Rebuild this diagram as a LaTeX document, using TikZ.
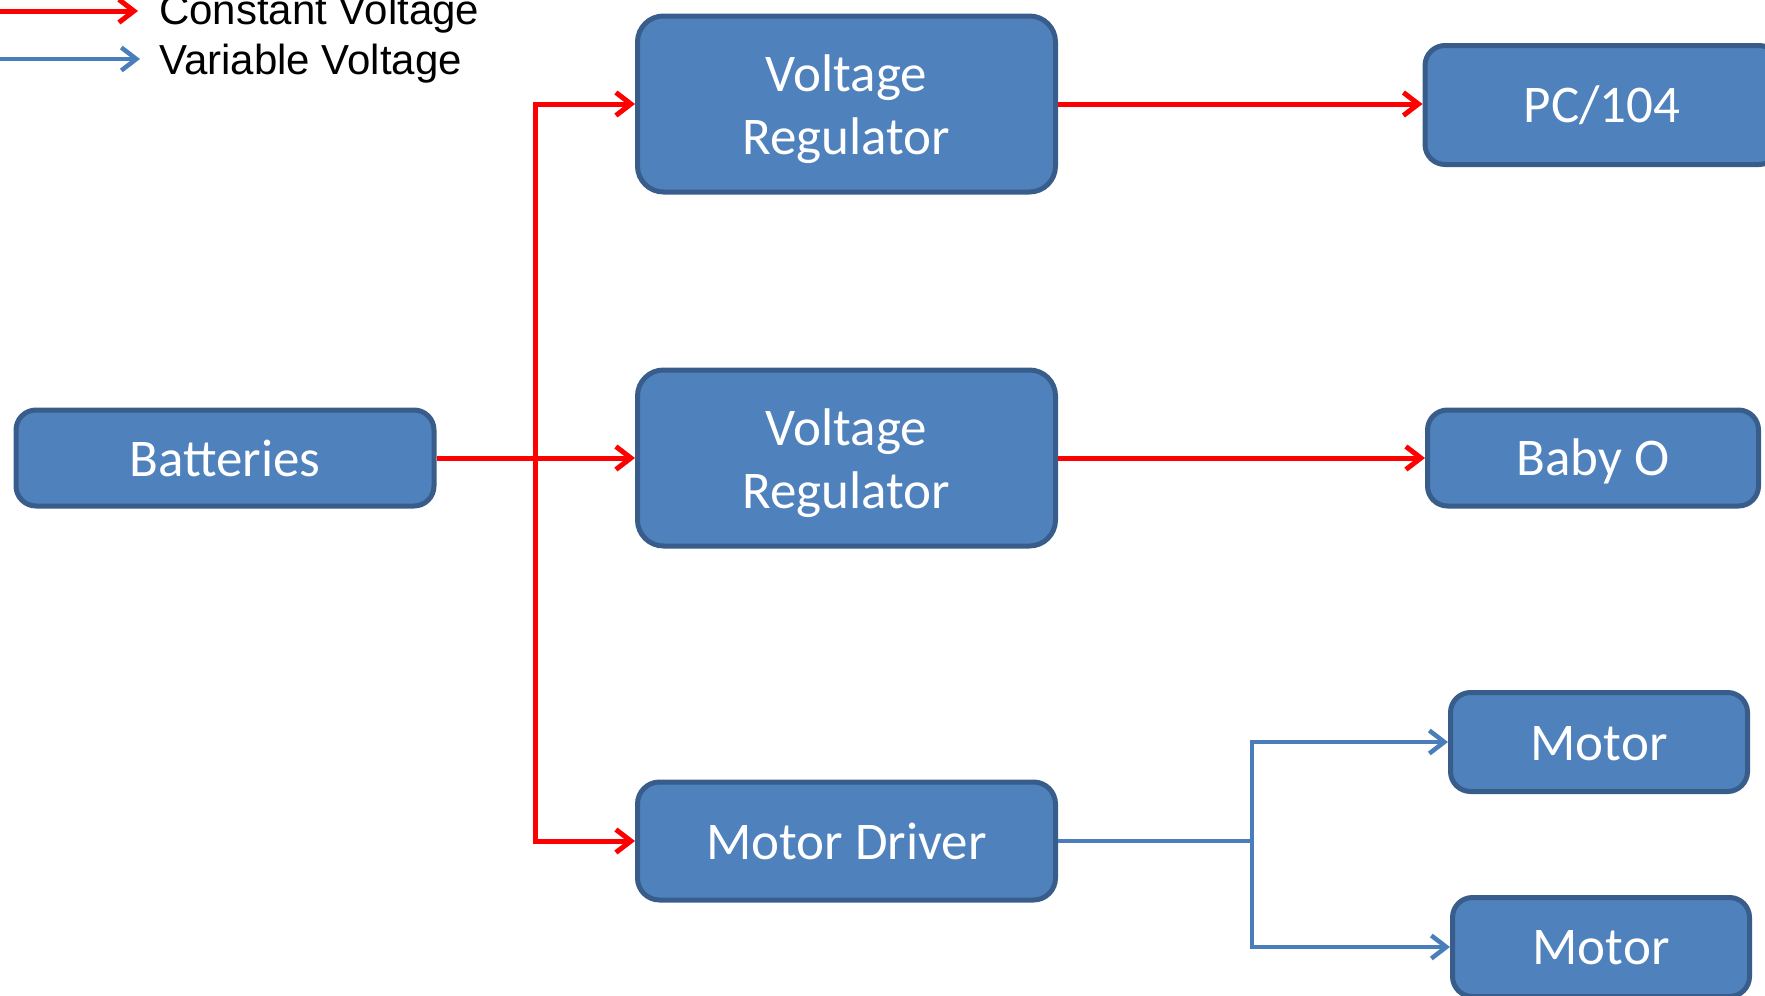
\documentclass[tikz,border=0pt]{standalone}
\usepackage{fontspec}
\setmainfont{Carlito}
\newfontfamily\legfont{Liberation Sans}
\usetikzlibrary{arrows.meta}
\definecolor{boxfill}{HTML}{4F81BD}
\definecolor{boxline}{HTML}{385D8A}
\definecolor{vline}{HTML}{4A7EBB}
\definecolor{cline}{HTML}{FF0000}
\begin{document}
\begin{tikzpicture}[x=1pt,y=-1pt,
  box/.style={draw=boxline, line width=5pt, fill=boxfill, rounded corners=26pt,
    text=white, font=\fontsize{53}{63}\selectfont, align=center, inner sep=0pt},
  boxtext/.style={text=white, font=\fontsize{53}{63}\selectfont, align=center, inner sep=0pt},
  smallbox/.style={box, rounded corners=20pt},
  redline/.style={draw=cline, line width=5pt},
  redarr/.style={redline, -{Straight Barb[length=15pt,width=23pt]}},
  blueline/.style={draw=vline, line width=4.5pt},
  bluearr/.style={blueline, -{Straight Barb[length=15pt,width=23pt]}},
  legtext/.style={anchor=base west, inner sep=0pt, font=\legfont\fontsize{42}{42}\selectfont}
]
\useasboundingbox (0,0) rectangle (1765,996);

% boxes
\node[box, minimum width=418pt, minimum height=96pt, rounded corners=20pt] (bat) at (225,458) {Batteries};
\node[box, minimum width=418pt, minimum height=176pt,
  label={[boxtext, yshift=-5.6pt]center:{Voltage\\Regulator}}] (vr1) at (846.5,104) {};
\node[box, minimum width=418pt, minimum height=176pt,
  label={[boxtext, yshift=-5.6pt]center:{Voltage\\Regulator}}] (vr2) at (846.5,458) {};
\node[box, minimum width=418pt, minimum height=118pt, rounded corners=22pt] (md) at (846.5,841) {Motor Driver};
\node[smallbox, minimum width=354pt, minimum height=119pt] (pc) at (1602,105) {PC/104};
\node[smallbox, minimum width=331pt, minimum height=96pt,
  label={[boxtext, yshift=-3.4pt]center:{Baby O}}] (baby) at (1593,458) {};
\node[smallbox, minimum width=297pt, minimum height=99pt,
  label={[boxtext, yshift=-2pt]center:{Motor}}] (m1) at (1599,742) {};
\node[smallbox, minimum width=297pt, minimum height=99pt,
  label={[boxtext, yshift=-1pt]center:{Motor}}] (m2) at (1601,947) {};

% red connectors
\coordinate (jt) at (535,104);
\coordinate (jb) at (535,841);
\draw[redarr] (bat.east) -- (vr2.west);
\draw[redline, line cap=rect] (jt) -- (jb);
\draw[redarr] (jt) -- (vr1.west);
\draw[redarr] (jb) -- (md.west);
\draw[redarr] (vr1.east) -- (vr1.east -| pc.west);
\draw[redarr] (vr2.east) -- (baby.west);

% blue connectors
\coordinate (bj) at (1252,841);
\coordinate (bt) at (1252,742);
\coordinate (bb) at (1252,947);
\draw[blueline] (md.east) -- (bj);
\draw[blueline, line cap=rect] (bt) -- (bb);
\draw[bluearr] (bt) -- (m1.west);
\draw[bluearr] (bb) -- (m2.west);

% legend
\coordinate (lr0) at (-5,11);
\coordinate (lr1) at (138,11);
\coordinate (lb0) at (-5,59);
\coordinate (lb1) at (140,59);
\draw[redarr] (lr0) -- (lr1);
\draw[bluearr] (lb0) -- (lb1);
\node[legtext] (lcon) at (159,24) {Constant Voltage};
\node[legtext] (lvar) at (159,74) {Variable Voltage};
\end{tikzpicture}
\end{document}
